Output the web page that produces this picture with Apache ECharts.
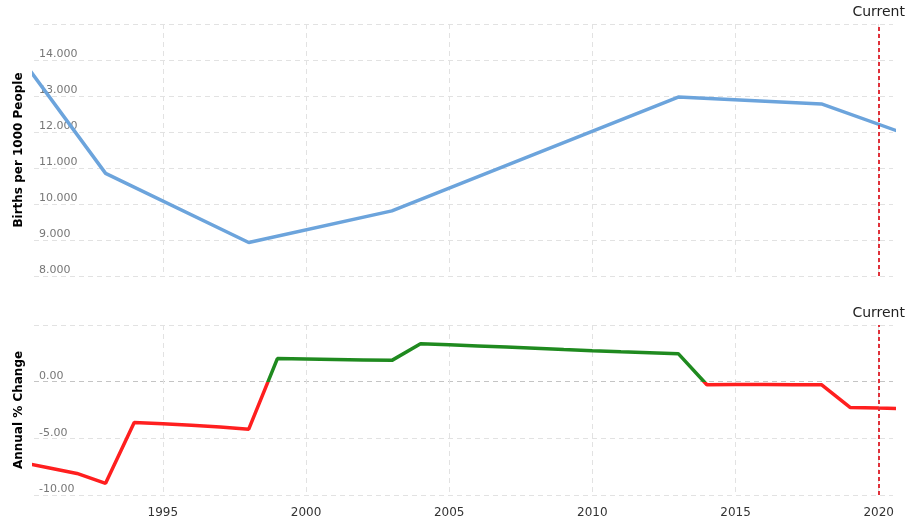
<!DOCTYPE html>
<html>
<head>
<meta charset="utf-8">
<script src="https://cdn.jsdelivr.net/npm/echarts@6/dist/echarts.min.js"></script>
<style>
  html, body { margin: 0; padding: 0; background: #fff; }
  #chart { width: 909px; height: 525px; }
</style>
</head>
<body>
<div id="chart"></div>
<script>
// birth rate, read at the corners of the line
const rateYears = [1990, 1993, 1998, 2003, 2013, 2018, 2021]
const rateValues = [14.1, 10.85, 8.93, 9.81, 12.97, 12.78, 11.93]

// annual % change, one per year
const changeYears = [1990, 1991, 1992, 1993, 1994, 1995, 1996, 1997, 1998, 1999,
  2000, 2001, 2002, 2003, 2004, 2005, 2006, 2007, 2008, 2009,
  2010, 2011, 2012, 2013, 2014, 2015, 2016, 2017, 2018, 2019, 2020, 2021]
const changeValues = [-7.1, -7.6, -8.1, -8.97, -3.6, -3.72, -3.85, -4.0, -4.19, 2.04,
  2.0, 1.96, 1.92, 1.88, 3.34, 3.25, 3.15, 3.05, 2.95, 2.83,
  2.72, 2.63, 2.55, 2.47, -0.27, -0.26, -0.26, -0.27, -0.27, -2.27, -2.33, -2.38]

const yearTicks = [1995, 2000, 2005, 2010, 2015, 2020]
const currentYear = 2020

const font = 'DejaVu Sans'
const gridColor = '#e2e2e2'

function xAxisFor(gridIndex, showLabels) {
  return {
    type: 'value',
    gridIndex: gridIndex,
    min: 1990.5,
    max: 2020.5,
    minInterval: 5,
    maxInterval: 5,
    axisLine: { show: false },
    axisTick: { show: false },
    axisLabel: {
      show: showLabels,
      margin: 12,
      color: '#333',
      fontFamily: font,
      fontSize: 12,
      formatter: (v) => yearTicks.includes(v) ? String(v) : ''
    },
    splitLine: {
      show: true,
      showMinLine: false,
      showMaxLine: false,
      lineStyle: { color: gridColor, type: [5, 4], width: 1 }
    }
  }
}

function markCurrent() {
  return {
    symbol: 'none',
    silent: true,
    animation: false,
    data: [{ xAxis: currentYear }],
    lineStyle: { color: '#e0313a', type: [4, 3], width: 2 },
    label: {
      show: true,
      position: 'end',
      formatter: 'Current',
      color: '#222',
      fontFamily: font,
      fontSize: 14
    }
  }
}

const chart = echarts.init(document.getElementById('chart'))

chart.setOption({
  animation: false,
  grid: [
    { left: 34, right: 16, top: 24, height: 252 },
    { left: 34, right: 16, top: 325, height: 170 }
  ],
  xAxis: [xAxisFor(0, false), xAxisFor(1, true)],
  yAxis: [
    {
      type: 'value',
      gridIndex: 0,
      min: 8,
      max: 15,
      interval: 1,
      name: 'Births per 1000 People',
      nameLocation: 'middle',
      nameGap: 9,
      nameTextStyle: { color: '#000', fontWeight: 'bold', fontFamily: font, fontSize: 12 },
      axisLine: { show: false },
      axisTick: { show: false },
      axisLabel: {
        inside: true,
        margin: 5,
        verticalAlign: 'bottom',
        color: '#777',
        fontFamily: font,
        fontSize: 11,
        formatter: (v) => v === 15 ? '' : v.toFixed(3)
      },
      splitLine: { lineStyle: { color: gridColor, type: [5, 4] } }
    },
    {
      type: 'value',
      gridIndex: 1,
      min: -10,
      max: 5,
      interval: 5,
      name: 'Annual % Change',
      nameLocation: 'middle',
      nameGap: 9,
      nameTextStyle: { color: '#000', fontWeight: 'bold', fontFamily: font, fontSize: 12 },
      axisLine: { show: false },
      axisTick: { show: false },
      axisLabel: {
        inside: true,
        margin: 5,
        verticalAlign: 'bottom',
        color: '#777',
        fontFamily: font,
        fontSize: 11,
        formatter: (v) => v === 5 ? '' : v.toFixed(2)
      },
      splitLine: {
        lineStyle: { color: [gridColor, gridColor, '#c4c4c4', gridColor], type: [5, 4] }
      }
    }
  ],
  visualMap: {
    type: 'piecewise',
    show: false,
    seriesIndex: 1,
    dimension: 1,
    pieces: [
      { gt: -100, lt: 0, color: '#ff1f1f' },
      { gte: 0, lte: 100, color: '#1f8a1f' }
    ]
  },
  series: [
    {
      type: 'line',
      xAxisIndex: 0,
      yAxisIndex: 0,
      data: rateYears.map((y, i) => [y, rateValues[i]]),
      showSymbol: false,
      lineStyle: { color: '#6ca4dc', width: 3.5 },
      itemStyle: { color: '#6ca4dc' },
      markLine: markCurrent()
    },
    {
      type: 'line',
      xAxisIndex: 1,
      yAxisIndex: 1,
      data: changeYears.map((y, i) => [y, changeValues[i]]),
      showSymbol: false,
      lineStyle: { width: 3.5 },
      markLine: markCurrent()
    }
  ]
})
</script>
</body>
</html>
